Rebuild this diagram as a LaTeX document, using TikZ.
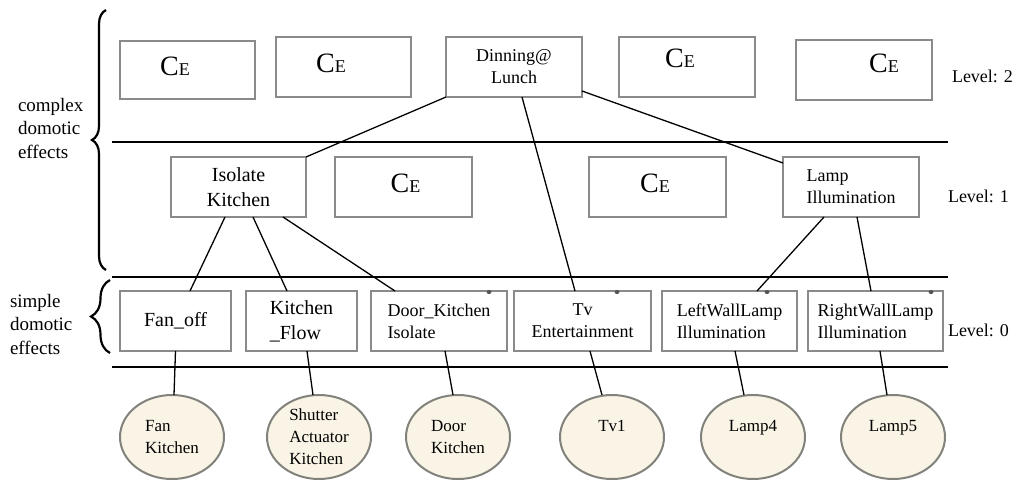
\documentclass[tikz,border=0pt]{standalone}
\usepackage{fontspec}
\setmainfont{Liberation Serif}
\usetikzlibrary{calc,shapes.geometric,decorations.pathreplacing}

\definecolor{boxgray}{RGB}{138,138,138}
\definecolor{ringgray}{RGB}{130,130,125}
\definecolor{cream}{RGB}{249,244,229}
\definecolor{dotgray}{RGB}{85,85,85}

\newcommand\setfs[2]{\fontsize{#1}{#2}\selectfont}
\newcommand\CEsym{{\setfs{28}{28}C}{\setfs{18}{18}E}}

\begin{document}
\begin{tikzpicture}[x=1pt,y=-1pt,
  every node/.style={inner sep=0pt,outer sep=0pt},
  effect/.style={draw=boxgray,line width=2.4pt,fill=white,minimum height=60pt,
    align=center,font=\setfs{18}{22}},
  bigtext/.style={font=\setfs{20}{25}},
  cetext/.style={draw=none,fill=none,font=\setfs{28}{28}},
  device/.style={ellipse,draw=ringgray,line width=2pt,fill=cream,
    minimum width=104pt,minimum height=84pt,align=left,font=\setfs{17}{22}},
  link/.style={line width=1.3pt},
  sep/.style={line width=1.6pt},
  curly/.style={decorate,line width=2.2pt},
  levtext/.style={font=\setfs{18}{22},anchor=base west},
  sidetext/.style={font=\setfs{19}{23.5},align=left,anchor=north west}
]
\useasboundingbox (0,0) rectangle (1013,483);

% separators between the levels
\coordinate (s1a) at (112,142); \coordinate (s1b) at (948,142);
\coordinate (s2a) at (112,277); \coordinate (s2b) at (948,277);
\coordinate (s3a) at (112,367); \coordinate (s3b) at (948,367);
\draw[sep] (s1a) -- (s1b);
\draw[sep] (s2a) -- (s2b);
\draw[sep] (s3a) -- (s3b);

% side braces and their captions
\coordinate (b1a) at (106,270); \coordinate (b1b) at (106,10);
\coordinate (b2a) at (110,353); \coordinate (b2b) at (110,280);
\draw[curly,decoration={brace,amplitude=14pt}] (b1a) -- (b1b);
\draw[curly,decoration={brace,amplitude=19pt}] (b2a) -- (b2b);
\node[sidetext] (cplx) at (18,98) {complex\\domotic\\effects};
\node[sidetext] (smpl) at (10,294) {simple\\domotic\\effects};

% level 2
\node[effect,minimum width=135pt,minimum height=58pt,
  label={[cetext,name=c2aT,xshift=-12.5pt,yshift=3.5pt]center:\CEsym}] (c2a) at (187.5,70) {};
\node[effect,minimum width=135pt,
  label={[cetext,name=c2bT,xshift=-12.5pt,yshift=3.5pt]center:\CEsym}] (c2b) at (343.5,67) {};
\node[effect,minimum width=136pt] (dl) at (514,67) {Dinning@\\Lunch};
\node[effect,minimum width=136pt,
  label={[cetext,name=c2dT,xshift=-7pt,yshift=9pt]center:\CEsym}] (c2d) at (687,67) {};
\node[effect,minimum width=136pt,
  label={[cetext,name=c2eT,xshift=20pt,yshift=6.5pt]center:\CEsym}] (c2e) at (864,70) {};

% level 1
\node[effect,bigtext,minimum width=135pt] (ik) at (238.5,187) {Isolate\\Kitchen};
\node[effect,minimum width=137pt,
  label={[cetext,name=c1bT,xshift=2pt,yshift=3.5pt]center:\CEsym}] (c1b) at (403.5,187) {};
\node[effect,minimum width=137pt,
  label={[cetext,name=c1cT,xshift=-2.5pt,yshift=3.5pt]center:\CEsym}] (c1c) at (657.5,187) {};
\node[effect,minimum width=136pt,align=left] (li) at (851,187) {Lamp\\Illumination};

% level 0
\node[effect,bigtext,minimum width=111pt] (fan) at (175.5,321) {Fan\_off};
\node[effect,bigtext,minimum width=111pt,align=left] (kf) at (301.5,321) {Kitchen\\\_Flow};
\node[effect,minimum width=136pt,align=left] (dk) at (439,321) {Door\_Kitchen\\Isolate};
\node[effect,minimum width=137pt] (tv) at (582.5,321) {Tv\\Entertainment};
\node[effect,minimum width=135pt,align=left] (lw) at (729.5,321) {LeftWallLamp\\Illumination};
\node[effect,minimum width=135pt,align=left] (rw) at (875.5,321) {RightWallLamp\\Illumination};

% devices
\node[device] (d1) at (172,437) {Fan\\Kitchen};
\node[device] (d2) at (319,437) {Shutter\\Actuator\\Kitchen};
\node[device] (d3) at (458,437) {Door\\Kitchen};
\node[device] (d4) at (612,437) {Tv1\\\mbox{}};
\node[device] (d5) at (753,437) {Lamp4\\\mbox{}};
\node[device] (d6) at (893,437) {Lamp5\\\mbox{}};

% level captions
\node[levtext] (lv2) at (952,82) {Level: 2};
\node[levtext] (lv1) at (948,202) {Level: 1};
\node[levtext] (lv0) at (948,336) {Level: 0};

% composition links
\draw[link] (dl.south west) -- (ik.north east);
\draw[link] ([xshift=8pt]dl.south) -- ([xshift=-7.5pt]tv.north);
\draw[link] ([yshift=6pt]dl.south east) -- ([yshift=-6pt]li.north west);
\draw[link] ([xshift=-13.5pt]ik.south) -- ([xshift=14.5pt]fan.north);
\draw[link] ([xshift=14.5pt]ik.south) -- ([xshift=-14.5pt]kf.north);
\draw[link] ([xshift=44.5pt]ik.south) -- ([xshift=24pt]dk.north west);
\draw[link] ([xshift=-27pt]li.south) -- ([xshift=27.5pt]lw.north);
\draw[link] ([xshift=6pt]li.south) -- ([xshift=-4.5pt]rw.north);

% links to the devices
\draw[link] (fan.south) -- ([xshift=2pt]d1.north);
\draw[link] ([xshift=5.5pt]kf.south) -- ([xshift=-6pt]d2.north);
\draw[link] ([xshift=6pt]dk.south) -- ([xshift=-5pt]d3.north);
\draw[link] ([xshift=7.5pt]tv.south) -- ([xshift=-10pt]d4.north);
\draw[link] ([xshift=5.5pt]lw.south) -- ([xshift=-9pt]d5.north);
\draw[link] ([xshift=4.5pt]rw.south) -- ([xshift=-6pt]d6.north);

% small marks on the top edges
\fill[dotgray] ([xshift=-18pt,yshift=-1pt]dk.north east) ellipse [x radius=2.5pt,y radius=2pt];
\fill[dotgray] ([xshift=-34pt,yshift=-1pt]tv.north east) ellipse [x radius=2.5pt,y radius=2pt];
\fill[dotgray] ([xshift=-30pt,yshift=-1pt]lw.north east) ellipse [x radius=2.5pt,y radius=2pt];
\fill[dotgray] ([xshift=-12pt,yshift=-1pt]rw.north east) ellipse [x radius=2.5pt,y radius=2pt];
\end{tikzpicture}
\end{document}
